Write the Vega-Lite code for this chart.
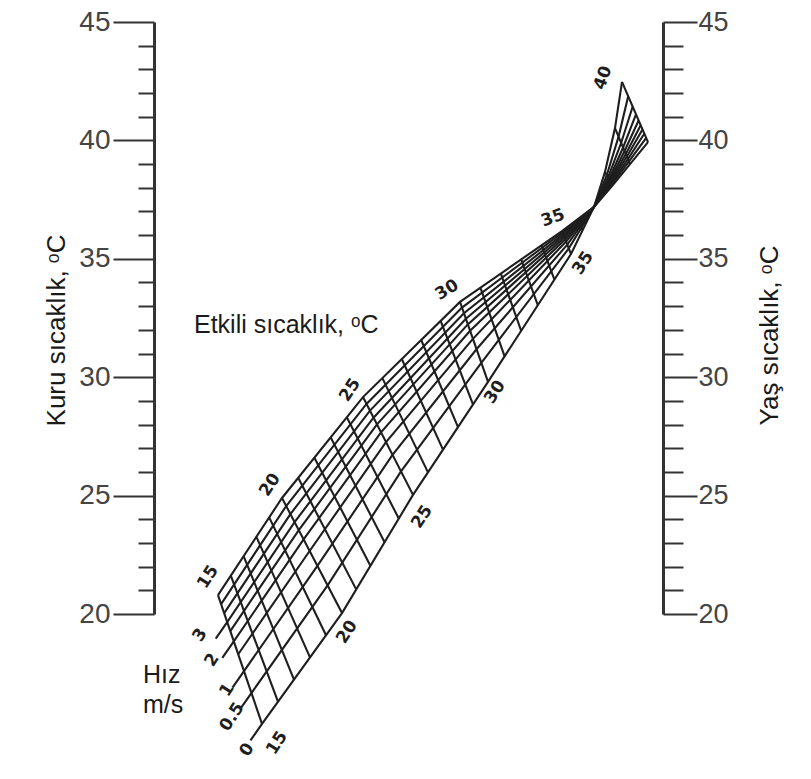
{
  "$schema": "https://vega.github.io/schema/vega-lite/v6.json",
  "width": 509,
  "height": 592,
  "autosize": {"type": "none"},
  "padding": {"left": 154, "top": 22, "right": 148, "bottom": 165},
  "background": "white",
  "config": {"view": {"stroke": null}},
  "datasets": {
    "axisPts": [{"T": 20}, {"T": 45}],
    "vel": [
      {"v": 0, "e": 14, "h": 96.5, "T": 14.66}, {"v": 0, "e": 15, "h": 108, "T": 15.36}, {"v": 0, "e": 20, "h": 188, "T": 20.04}, {"v": 0, "e": 25, "h": 259, "T": 25.03}, {"v": 0, "e": 30, "h": 334, "T": 29.80}, {"v": 0, "e": 35, "h": 417, "T": 35.20}, {"v": 0, "e": 37, "h": 440, "T": 37.19}, {"v": 0, "e": 38, "h": 451, "T": 38.67}, {"v": 0, "e": 39, "h": 461, "T": 40.52}, {"v": 0, "e": 40, "h": 468, "T": 42.47},
      {"v": 0.5, "e": 14, "h": 85.9, "T": 15.97}, {"v": 0.5, "e": 15, "h": 97.4, "T": 16.66}, {"v": 0.5, "e": 20, "h": 173.6, "T": 21.21}, {"v": 0.5, "e": 25, "h": 247, "T": 26.02}, {"v": 0.5, "e": 30, "h": 327.3, "T": 30.61}, {"v": 0.5, "e": 35, "h": 414.8, "T": 35.44}, {"v": 0.5, "e": 37, "h": 440, "T": 37.19}, {"v": 0.5, "e": 38, "h": 452.7, "T": 38.52}, {"v": 0.5, "e": 39, "h": 464.6, "T": 40.16}, {"v": 0.5, "e": 40, "h": 474.2, "T": 41.86},
      {"v": 1, "e": 14, "h": 78.5, "T": 16.89}, {"v": 1, "e": 15, "h": 90, "T": 17.59}, {"v": 1, "e": 20, "h": 163.4, "T": 22.03}, {"v": 1, "e": 25, "h": 238.5, "T": 26.72}, {"v": 1, "e": 30, "h": 322.5, "T": 31.18}, {"v": 1, "e": 35, "h": 413.3, "T": 35.60}, {"v": 1, "e": 37, "h": 440, "T": 37.19}, {"v": 1, "e": 38, "h": 453.9, "T": 38.42}, {"v": 1, "e": 39, "h": 467.2, "T": 39.90}, {"v": 1, "e": 40, "h": 478.7, "T": 41.43},
      {"v": 1.5, "e": 15, "h": 84.2, "T": 18.30}, {"v": 1.5, "e": 20, "h": 155.6, "T": 22.66}, {"v": 1.5, "e": 25, "h": 232, "T": 27.26}, {"v": 1.5, "e": 30, "h": 318.9, "T": 31.62}, {"v": 1.5, "e": 35, "h": 412.1, "T": 35.73}, {"v": 1.5, "e": 37, "h": 440, "T": 37.19}, {"v": 1.5, "e": 38, "h": 454.8, "T": 38.34}, {"v": 1.5, "e": 39, "h": 469.1, "T": 39.70}, {"v": 1.5, "e": 40, "h": 482, "T": 41.10},
      {"v": 2, "e": 14, "h": 68.3, "T": 18.15}, {"v": 2, "e": 15, "h": 79.8, "T": 18.84}, {"v": 2, "e": 20, "h": 149.6, "T": 23.15}, {"v": 2, "e": 25, "h": 227, "T": 27.67}, {"v": 2, "e": 30, "h": 316.1, "T": 31.96}, {"v": 2, "e": 35, "h": 411.2, "T": 35.82}, {"v": 2, "e": 37, "h": 440, "T": 37.19}, {"v": 2, "e": 38, "h": 455.5, "T": 38.29}, {"v": 2, "e": 39, "h": 470.6, "T": 39.55}, {"v": 2, "e": 40, "h": 484.6, "T": 40.84},
      {"v": 2.5, "e": 15, "h": 76.3, "T": 19.28}, {"v": 2.5, "e": 20, "h": 144.8, "T": 23.54}, {"v": 2.5, "e": 25, "h": 223, "T": 28.01}, {"v": 2.5, "e": 30, "h": 313.8, "T": 32.23}, {"v": 2.5, "e": 35, "h": 410.5, "T": 35.90}, {"v": 2.5, "e": 37, "h": 440, "T": 37.19}, {"v": 2.5, "e": 38, "h": 456, "T": 38.24}, {"v": 2.5, "e": 39, "h": 471.8, "T": 39.43}, {"v": 2.5, "e": 40, "h": 486.7, "T": 40.64},
      {"v": 3, "e": 14, "h": 61.7, "T": 18.96}, {"v": 3, "e": 15, "h": 73.2, "T": 19.66}, {"v": 3, "e": 20, "h": 140.6, "T": 23.88}, {"v": 3, "e": 25, "h": 219.5, "T": 28.29}, {"v": 3, "e": 30, "h": 311.9, "T": 32.47}, {"v": 3, "e": 35, "h": 409.9, "T": 35.97}, {"v": 3, "e": 37, "h": 440, "T": 37.19}, {"v": 3, "e": 38, "h": 456.5, "T": 38.20}, {"v": 3, "e": 39, "h": 472.9, "T": 39.32}, {"v": 3, "e": 40, "h": 488.5, "T": 40.46},
      {"v": 4, "e": 15, "h": 70.2, "T": 20.04}, {"v": 4, "e": 20, "h": 136.4, "T": 24.22}, {"v": 4, "e": 25, "h": 216, "T": 28.59}, {"v": 4, "e": 30, "h": 309.9, "T": 32.70}, {"v": 4, "e": 35, "h": 409.3, "T": 36.04}, {"v": 4, "e": 37, "h": 440, "T": 37.19}, {"v": 4, "e": 38, "h": 457, "T": 38.16}, {"v": 4, "e": 39, "h": 473.9, "T": 39.21}, {"v": 4, "e": 40, "h": 490.4, "T": 40.29},
      {"v": 5, "e": 15, "h": 67.1, "T": 20.42}, {"v": 5, "e": 20, "h": 132.2, "T": 24.56}, {"v": 5, "e": 25, "h": 212.5, "T": 28.87}, {"v": 5, "e": 30, "h": 308, "T": 32.94}, {"v": 5, "e": 35, "h": 408.6, "T": 36.11}, {"v": 5, "e": 37, "h": 440, "T": 37.19}, {"v": 5, "e": 38, "h": 457.5, "T": 38.12}, {"v": 5, "e": 39, "h": 475, "T": 39.11}, {"v": 5, "e": 40, "h": 492.2, "T": 40.11},
      {"v": 6, "e": 15, "h": 64, "T": 20.80}, {"v": 6, "e": 20, "h": 128, "T": 24.90}, {"v": 6, "e": 25, "h": 209, "T": 29.16}, {"v": 6, "e": 30, "h": 306, "T": 33.18}, {"v": 6, "e": 35, "h": 408, "T": 36.17}, {"v": 6, "e": 37, "h": 440, "T": 37.19}, {"v": 6, "e": 38, "h": 458, "T": 38.07}, {"v": 6, "e": 39, "h": 476, "T": 39.00}, {"v": 6, "e": 40, "h": 494, "T": 39.93}
    ],
    "et": [
      {"e": 15, "h1": 108, "T1": 15.36, "h2": 64, "T2": 20.80},
      {"e": 16, "h1": 124, "T1": 16.30, "h2": 76.8, "T2": 21.62},
      {"e": 17, "h1": 140, "T1": 17.23, "h2": 89.6, "T2": 22.44},
      {"e": 18, "h1": 156, "T1": 18.17, "h2": 102.4, "T2": 23.26},
      {"e": 19, "h1": 172, "T1": 19.10, "h2": 115.2, "T2": 24.08},
      {"e": 20, "h1": 188, "T1": 20.04, "h2": 128, "T2": 24.90},
      {"e": 21, "h1": 202.2, "T1": 21.04, "h2": 144.2, "T2": 25.75},
      {"e": 22, "h1": 216.4, "T1": 22.04, "h2": 160.4, "T2": 26.60},
      {"e": 23, "h1": 230.6, "T1": 23.03, "h2": 176.6, "T2": 27.46},
      {"e": 24, "h1": 244.8, "T1": 24.03, "h2": 192.8, "T2": 28.31},
      {"e": 25, "h1": 259, "T1": 25.03, "h2": 209, "T2": 29.16},
      {"e": 26, "h1": 274, "T1": 25.98, "h2": 228.4, "T2": 29.96},
      {"e": 27, "h1": 289, "T1": 26.94, "h2": 247.8, "T2": 30.77},
      {"e": 28, "h1": 304, "T1": 27.89, "h2": 267.2, "T2": 31.57},
      {"e": 29, "h1": 319, "T1": 28.85, "h2": 286.6, "T2": 32.38},
      {"e": 30, "h1": 334, "T1": 29.80, "h2": 306, "T2": 33.18},
      {"e": 31, "h1": 350.6, "T1": 30.88, "h2": 326.4, "T2": 33.78},
      {"e": 32, "h1": 367.2, "T1": 31.96, "h2": 346.8, "T2": 34.38},
      {"e": 33, "h1": 383.8, "T1": 33.04, "h2": 367.2, "T2": 34.97},
      {"e": 34, "h1": 400.4, "T1": 34.12, "h2": 387.6, "T2": 35.57},
      {"e": 35, "h1": 417, "T1": 35.20, "h2": 408, "T2": 36.17},
      {"e": 36, "h1": 428.5, "T1": 36.20, "h2": 424, "T2": 36.68},
      {"e": 38, "h1": 451, "T1": 38.67, "h2": 458, "T2": 38.07},
      {"e": 39, "h1": 461, "T1": 40.52, "h2": 476, "T2": 39.00},
      {"e": 40, "h1": 468, "T1": 42.47, "h2": 494, "T2": 39.93}
    ],
    "labs": [
      {"txt": "15", "h": 54, "T": 21.56, "g": "u"},
      {"txt": "20", "h": 116, "T": 25.45, "g": "u"},
      {"txt": "25", "h": 196, "T": 29.46, "g": "u"},
      {"txt": "30", "h": 293, "T": 33.68, "g": "u30"},
      {"txt": "35", "h": 399, "T": 36.72, "g": "u35"},
      {"txt": "40", "h": 449, "T": 42.64, "g": "u40"},
      {"txt": "15", "h": 123, "T": 14.55, "g": "l"},
      {"txt": "20", "h": 193, "T": 19.24, "g": "l"},
      {"txt": "25", "h": 268, "T": 24.10, "g": "l"},
      {"txt": "30", "h": 341, "T": 29.37, "g": "l"},
      {"txt": "35", "h": 429, "T": 34.82, "g": "l"},
      {"txt": "0", "h": 93, "T": 14.26, "g": "v"},
      {"txt": "0.5", "h": 78, "T": 15.65, "g": "v"},
      {"txt": "1", "h": 73, "T": 16.79, "g": "v"},
      {"txt": "2", "h": 58, "T": 18.06, "g": "v"},
      {"txt": "3", "h": 46, "T": 19.11, "g": "v"}
    ],
    "notes": [
      {"txt": "Etkili sıcaklık, ᵒC", "h": 40, "T": 32.20},
      {"txt": "Hız", "h": -11, "T": 17.42},
      {"txt": "m/s", "h": -11, "T": 16.16}
    ]
  },
  "resolve": {"axis": {"y": "independent"}},
  "layer": [
    {
      "data": {"name": "axisPts"},
      "mark": {"type": "point", "opacity": 0},
      "encoding": {
        "x": {"datum": 0, "type": "quantitative", "scale": {"domain": [0, 509], "nice": false, "zero": false}, "axis": null},
        "y": {
          "field": "T", "type": "quantitative",
          "scale": {"domain": [20, 45], "nice": false, "zero": false},
          "axis": {
            "orient": "left",
            "values": [20,21,22,23,24,25,26,27,28,29,30,31,32,33,34,35,36,37,38,39,40,41,42,43,44,45],
            "grid": false,
            "domainColor": "#333", "domainWidth": 3,
            "tickColor": "#333", "tickWidth": 2,
            "tickSize": {"condition": {"test": "datum.value % 5 === 0", "value": 41}, "value": 16},
            "labelExpr": "datum.value % 5 === 0 ? datum.label : ''",
            "labelOverlap": false,
            "labelFont": "Liberation Sans", "labelFontSize": 28, "labelColor": "#444", "labelPadding": 3,
            "title": "Kuru sıcaklık, ᵒC",
            "titleFont": "Liberation Sans", "titleFontSize": 26, "titleFontWeight": "normal", "titleColor": "#1a1a1a",
            "titleAngle": 270, "titleX": -98, "titleY": 308, "titleAlign": "center", "titleBaseline": "middle"
          }
        }
      }
    },
    {
      "data": {"name": "axisPts"},
      "mark": {"type": "point", "opacity": 0},
      "encoding": {
        "x": {"datum": 0, "type": "quantitative", "scale": {"domain": [0, 509], "nice": false, "zero": false}, "axis": null},
        "y": {
          "field": "T", "type": "quantitative",
          "scale": {"domain": [20, 45], "nice": false, "zero": false},
          "axis": {
            "orient": "right",
            "values": [20,21,22,23,24,25,26,27,28,29,30,31,32,33,34,35,36,37,38,39,40,41,42,43,44,45],
            "grid": false,
            "domainColor": "#333", "domainWidth": 3,
            "tickColor": "#333", "tickWidth": 2,
            "tickSize": {"condition": {"test": "datum.value % 5 === 0", "value": 34}, "value": 20},
            "labelExpr": "datum.value % 5 === 0 ? datum.label : ''",
            "labelOverlap": false,
            "labelFont": "Liberation Sans", "labelFontSize": 27, "labelColor": "#444", "labelPadding": 1,
            "title": "Yaş sıcaklık, ᵒC",
            "titleFont": "Liberation Sans", "titleFontSize": 26, "titleFontWeight": "normal", "titleColor": "#1a1a1a",
            "titleAngle": 270, "titleX": 106, "titleY": 313, "titleAlign": "center", "titleBaseline": "middle"
          }
        }
      }
    },
    {
      "data": {"name": "vel"},
      "mark": {"type": "line", "stroke": "#1e1e1e", "strokeWidth": 2.1},
      "encoding": {
        "x": {"field": "h", "type": "quantitative", "scale": {"domain": [0, 509], "nice": false, "zero": false}, "axis": null},
        "y": {"field": "T", "type": "quantitative", "scale": {"domain": [20, 45], "nice": false, "zero": false}, "axis": null},
        "detail": {"field": "v", "type": "nominal"},
        "order": {"field": "e", "type": "quantitative"}
      }
    },
    {
      "data": {"name": "et"},
      "mark": {"type": "rule", "stroke": "#1e1e1e", "strokeWidth": 2.1},
      "encoding": {
        "x": {"field": "h1", "type": "quantitative", "scale": {"domain": [0, 509], "nice": false, "zero": false}, "axis": null},
        "y": {"field": "T1", "type": "quantitative", "scale": {"domain": [20, 45], "nice": false, "zero": false}, "axis": null},
        "x2": {"field": "h2"},
        "y2": {"field": "T2"}
      }
    },
    {
      "data": {"name": "labs"},
      "mark": {"type": "text", "font": "DejaVu Sans", "fontSize": 17, "fontWeight": "bold", "fill": "#1e1e1e", "align": "center", "baseline": "middle"},
      "encoding": {
        "x": {"field": "h", "type": "quantitative", "scale": {"domain": [0, 509], "nice": false, "zero": false}, "axis": null},
        "y": {"field": "T", "type": "quantitative", "scale": {"domain": [20, 45], "nice": false, "zero": false}, "axis": null},
        "text": {"field": "txt"},
        "angle": {
          "condition": [
            {"test": "datum.g == 'u30'", "value": 328},
            {"test": "datum.g == 'u35'", "value": 340},
            {"test": "datum.g == 'u40'", "value": 290}
          ],
          "value": 303
        }
      }
    },
    {
      "data": {"name": "notes"},
      "mark": {"type": "text", "font": "Liberation Sans", "fontSize": 25, "fill": "#1a1a1a", "align": "left", "baseline": "middle"},
      "encoding": {
        "x": {"field": "h", "type": "quantitative", "scale": {"domain": [0, 509], "nice": false, "zero": false}, "axis": null},
        "y": {"field": "T", "type": "quantitative", "scale": {"domain": [20, 45], "nice": false, "zero": false}, "axis": null},
        "text": {"field": "txt"}
      }
    }
  ]
}
